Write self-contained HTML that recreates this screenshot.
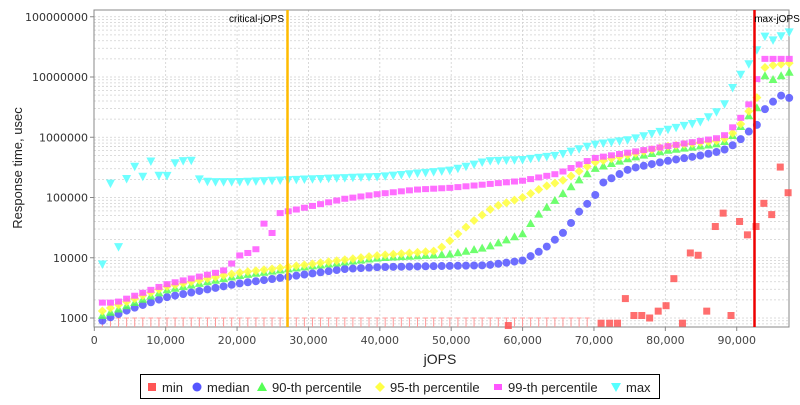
<!DOCTYPE html>
<html><head><meta charset="utf-8"><style>
body{margin:0;background:#fff;width:800px;height:400px;overflow:hidden;font-family:"Liberation Sans","DejaVu Sans",sans-serif}
</style></head><body>
<svg id="s" width="800" height="400" xmlns="http://www.w3.org/2000/svg" font-family="Liberation Sans, DejaVu Sans, sans-serif"></svg>
<script>
const s=document.getElementById('s');
const L=94,R=789,T=10,B=327;
const X=v=>94.3+v*71.38/10000;
const Y=v=>318-(Math.log10(v)-3)*60.25;
let h='<rect x="0" y="0" width="800" height="400" fill="#fff"/>';
for(let d=2;d<=8;d++)for(let m=1;m<10;m++){const y=Y(m*Math.pow(10,d));if(y<T||y>B)continue;
h+=`<line x1="${L}" x2="${R}" y1="${y}" y2="${y}" stroke="#d0d0d0" stroke-width="0.8" stroke-dasharray="2,2"/>`;}
for(let k=1;k<=9;k++){const x=X(k*10000);h+=`<line x1="${x}" x2="${x}" y1="${T}" y2="${B}" stroke="#d0d0d0" stroke-width="0.8" stroke-dasharray="2,2"/>`;}
h+=`<rect x="${L}" y="${T}" width="${R-L}" height="${B-T}" fill="none" stroke="#888"/>`;
for(let d=3;d<=8;d++){const y=Y(Math.pow(10,d));h+=`<text x="88" y="${y+4}" font-size="11" font-family="DejaVu Sans, sans-serif" text-anchor="end" fill="#333">${Math.pow(10,d)}</text><line x1="90" x2="94" y1="${y}" y2="${y}" stroke="#888"/>`;}
for(let k=0;k<=9;k++){const x=X(k*10000);h+=`<line x1="${x}" x2="${x}" y1="${B}" y2="${B+4}" stroke="#888"/><text x="${x}" y="344" font-size="11" font-family="DejaVu Sans, sans-serif" text-anchor="middle" fill="#444">${k?(k*10)+',000':'0'}</text>`;}
h+=`<text x="440" y="364" font-size="14" text-anchor="middle" fill="#222">jOPS</text>`;
h+=`<text transform="translate(22,168) rotate(-90)" font-size="13" text-anchor="middle" fill="#222">Response time, usec</text>`;
function interp(pts,x){if(x<=pts[0][0])return pts[0][1];for(let i=1;i<pts.length;i++){if(x<=pts[i][0]){const [a,va]=pts[i-1],[b,vb]=pts[i];const t=(x-a)/(b-a);return Math.pow(10,Math.log10(va)+t*(Math.log10(vb)-Math.log10(va)));}}return pts[pts.length-1][1];}
const med=[[1100,900],[5000,1400],[10000,2200],[20000,3700],[27000,4800],[35000,6500],[40000,7000],[55000,7500],[60000,9000],[63000,14000],[66000,28000],[68000,60000],[70000,100000],[71000,170000],[75000,300000],[80000,400000],[85000,500000],[88000,600000],[90000,800000],[91500,1200000],[92700,1500000],[94000,3000000],[95000,3800000],[96000,5000000],[97300,4500000]];
const p90=[[1100,1100],[10000,2900],[20000,5000],[27000,6500],[40000,10000],[50000,11500],[55000,15000],[60000,25000],[62000,50000],[65000,100000],[68000,200000],[70000,300000],[75000,450000],[80000,600000],[88000,800000],[90000,1200000],[91500,2200000],[92700,2700000],[94000,11000000],[95000,9000000],[97300,12000000]];
const p95=[[1100,1300],[10000,3300],[20000,5600],[27000,7000],[40000,11000],[48000,13000],[50000,20000],[53000,40000],[56000,70000],[60000,100000],[63000,150000],[66000,200000],[70000,380000],[80000,700000],[88000,900000],[90000,1300000],[91500,2500000],[92700,4000000],[94000,15000000],[97300,17000000]];
const p99=[[1100,1800],[3000,1800],[10000,3600],[18000,6000],[19500,8500],[20700,12000],[22000,12000],[23000,15000],[24000,48000],[25200,21000],[26000,55000],[30000,70000],[35000,95000],[40000,115000],[45000,135000],[50000,145000],[60000,190000],[65000,250000],[70000,450000],[80000,700000],[88000,1000000],[90000,1700000],[91500,3000000],[92700,8000000],[93500,20000000],[97300,20000000]];
const mx=[[1100,7000],[2200,200000],[3300,12000],[4500,200000],[5600,330000],[6800,220000],[7900,400000],[9000,230000],[10100,220000],[11300,370000],[12400,400000],[13500,430000],[14700,200000],[16000,180000],[20000,180000],[30000,200000],[40000,220000],[50000,280000],[55000,400000],[60000,420000],[65000,500000],[70000,750000],[75000,900000],[80000,1300000],[85000,1800000],[88000,3000000],[90000,9000000],[91500,15000000],[92700,25000000],[93500,50000000],[95000,40000000],[97300,55000000]];
const xs=[];for(let n=1;n<=86;n++)xs.push(n*1132);
xs.forEach(v=>{if(v<70000){const x=X(v);h+=`<line x1="${x}" x2="${x}" y1="318" y2="327" stroke="#f99" stroke-width="1"/><line x1="${x-2.5}" x2="${x+2.5}" y1="318" y2="318" stroke="#f99"/>`;}});
const mins=[[58000,750],[71000,820],[72200,820],[73300,820],[74400,2100],[75600,1100],[76700,1100],[77800,1000],[79000,1300],[80100,1600],[81200,4500],[82400,820],[83500,12000],[84600,11000],[85800,1300],[87000,33000],[88100,55000],[89200,1100],[90400,40000],[91500,24000],[92700,33000],[93800,80000],[94900,52000],[96100,320000],[97200,120000]];
mins.forEach(([v,y])=>{h+=`<rect x="${X(v)-3.5}" y="${Y(y)-3.5}" width="7" height="7" fill="#f55" opacity="0.85"/>`;});
xs.forEach(v=>{const x=X(v),y=Y(interp(med,v));h+=`<circle cx="${x}" cy="${y}" r="4" fill="#55f" opacity="0.85"/>`;});
xs.forEach(v=>{const x=X(v),y=Y(interp(p90,v));h+=`<polygon points="${x},${y-4.5} ${x+4.5},${y+3.5} ${x-4.5},${y+3.5}" fill="#5f5" opacity="0.85"/>`;});
xs.forEach(v=>{const x=X(v),y=Y(interp(p95,v));h+=`<polygon points="${x},${y-4.5} ${x+4.5},${y} ${x},${y+4.5} ${x-4.5},${y}" fill="#ff4" opacity="0.9"/>`;});
xs.forEach(v=>{const x=X(v),y=Y(interp(p99,v));h+=`<rect x="${x-3.5}" y="${y-3}" width="7" height="6" fill="#f5f" opacity="0.85"/>`;});
xs.forEach(v=>{const x=X(v),y=Y(interp(mx,v));h+=`<polygon points="${x-4.5},${y-4} ${x+4.5},${y-4} ${x},${y+4.5}" fill="#5ff" opacity="0.85"/>`;});
h+=`<line x1="287.5" x2="287.5" y1="${T}" y2="${B}" stroke="#fb0" stroke-width="2.5"/><text x="284" y="22" font-size="10" text-anchor="end" fill="#000">critical-jOPS</text>`;
h+=`<line x1="754.5" x2="754.5" y1="${T}" y2="${B}" stroke="#e00" stroke-width="2.5"/><text x="777" y="22" font-size="10" text-anchor="middle" fill="#000">max-jOPS</text>`;
h+=`<rect x="140.5" y="374.5" width="519" height="24" fill="#fff" stroke="#000"/>`;
const lg=[[148,'min','sq','#f55'],[193,'median','c','#55f'],[258,'90-th percentile','t','#5f5'],[376,'95-th percentile','d','#ff4'],[494,'99-th percentile','p','#f5f'],[612,'max','v','#5ff']];
lg.forEach(([x,t,k,c])=>{const cx=x+4,cy=387;let m;
if(k=='sq')m=`<rect x="${cx-4}" y="${cy-4}" width="8" height="8" fill="${c}"/>`;
else if(k=='c')m=`<circle cx="${cx}" cy="${cy}" r="4.5" fill="${c}"/>`;
else if(k=='t')m=`<polygon points="${cx},${cy-5} ${cx+5},${cy+4} ${cx-5},${cy+4}" fill="${c}"/>`;
else if(k=='d')m=`<polygon points="${cx},${cy-5} ${cx+5},${cy} ${cx},${cy+5} ${cx-5},${cy}" fill="${c}"/>`;
else if(k=='p')m=`<rect x="${cx-4}" y="${cy-3}" width="8" height="6" fill="${c}"/>`;
else m=`<polygon points="${cx-5},${cy-4} ${cx+5},${cy-4} ${cx},${cy+5}" fill="${c}"/>`;
h+=m+`<text x="${x+14}" y="392" font-size="13" fill="#222">${t}</text>`;});
s.innerHTML=h;
</script>
</body></html>
